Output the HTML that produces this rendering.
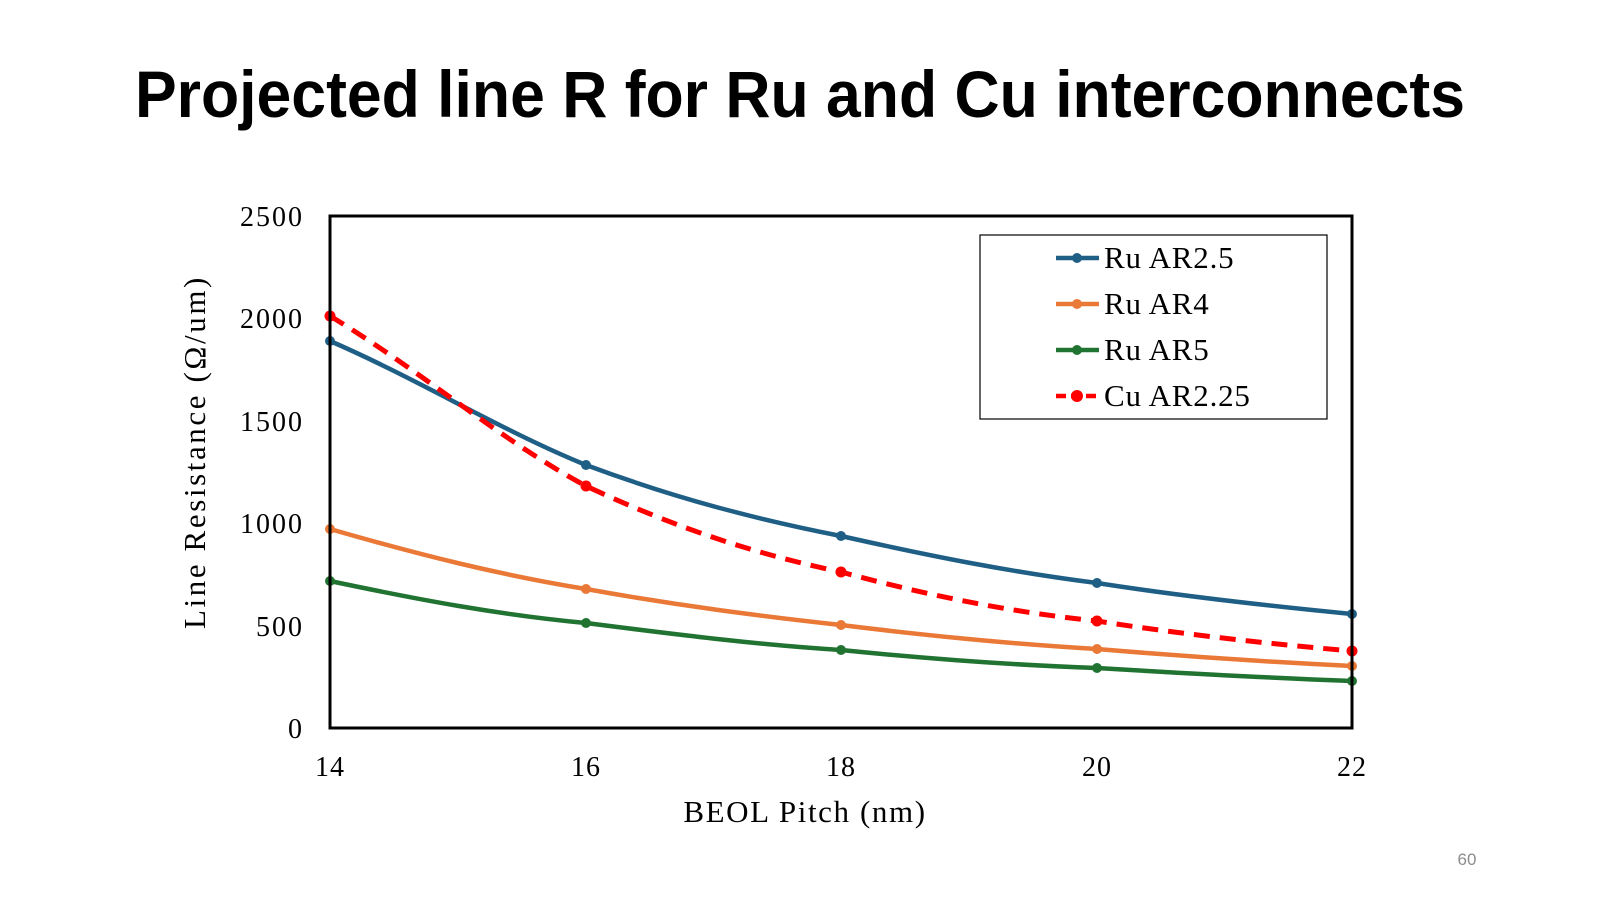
<!DOCTYPE html>
<html><head><meta charset="utf-8"><style>body{margin:0;background:#fff}svg{display:block}</style></head>
<body>
<svg width="1600" height="900" viewBox="0 0 1600 900" xmlns="http://www.w3.org/2000/svg">
<rect width="1600" height="900" fill="#fff"/>
<text x="800" y="117" text-anchor="middle" font-family="Liberation Sans, sans-serif" font-weight="bold" font-size="66" textLength="1330" lengthAdjust="spacingAndGlyphs">Projected line R for Ru and Cu interconnects</text>
<g font-family="Liberation Serif, serif" font-size="28" fill="#000">
<g text-anchor="end" letter-spacing="2">
<text x="304" y="226">2500</text><text x="304" y="328">2000</text><text x="304" y="431">1500</text><text x="304" y="533">1000</text><text x="304" y="636">500</text><text x="304" y="738">0</text>
</g>
<g text-anchor="middle">
<text x="330" y="776" letter-spacing="1">14</text><text x="586" y="776" letter-spacing="1">16</text><text x="841" y="776" letter-spacing="1">18</text><text x="1097" y="776" letter-spacing="1">20</text><text x="1352" y="776" letter-spacing="1">22</text>
<text x="805" y="822" font-size="31" letter-spacing="1.6">BEOL Pitch (nm)</text>
<text transform="translate(205,452) rotate(-90)" font-size="31" letter-spacing="2.6">Line Resistance (Ω/um)</text>
</g>
</g>
<g fill="none" stroke-width="4.5" stroke-linejoin="round">
<path d="M330,341 C420,380 500,430 586,465 C680,500 760,520 841,536 C930,556 1010,572 1097,583 C1180,596 1270,606 1352,614" stroke="#1f5f86"/>
<path d="M330,529 C420,555 500,575 586,589 C680,606 760,616 841,625 C930,636 1010,644 1097,649 C1180,656 1270,662 1352,666" stroke="#ea7836"/>
<path d="M330,581 C420,600 500,615 586,623 C680,635 760,645 841,650 C930,659 1010,665 1097,668 C1180,673 1270,678 1352,681" stroke="#217331"/>
<path d="M330,316 C420,370 500,440 586,486 C680,530 760,555 841,572 C930,596 1010,612 1097,621 C1180,634 1270,644 1352,651" stroke="#ff0000" stroke-width="5" stroke-dasharray="16,10"/>
</g>
<g fill="#1f5f86"><circle cx="330" cy="341" r="5"/><circle cx="586" cy="465" r="5"/><circle cx="841" cy="536" r="5"/><circle cx="1097" cy="583" r="5"/><circle cx="1352" cy="614" r="5"/></g>
<g fill="#ea7836"><circle cx="330" cy="529" r="5"/><circle cx="586" cy="589" r="5"/><circle cx="841" cy="625" r="5"/><circle cx="1097" cy="649" r="5"/><circle cx="1352" cy="666" r="5"/></g>
<g fill="#217331"><circle cx="330" cy="581" r="5"/><circle cx="586" cy="623" r="5"/><circle cx="841" cy="650" r="5"/><circle cx="1097" cy="668" r="5"/><circle cx="1352" cy="681" r="5"/></g>
<g fill="#ff0000"><circle cx="330" cy="316" r="5.5"/><circle cx="586" cy="486" r="5.5"/><circle cx="841" cy="572" r="5.5"/><circle cx="1097" cy="621" r="5.5"/><circle cx="1352" cy="651" r="5.5"/></g>
<rect x="330" y="216" width="1022" height="512" fill="none" stroke="#000" stroke-width="3"/>
<rect x="980" y="235" width="347" height="184" fill="#fff" stroke="#000" stroke-width="1.2"/>
<g stroke-width="4.5">
<line x1="1056" y1="258" x2="1099" y2="258" stroke="#1f5f86"/><circle cx="1077" cy="258" r="5" fill="#1f5f86"/>
<line x1="1056" y1="304" x2="1099" y2="304" stroke="#ea7836"/><circle cx="1077" cy="304" r="5" fill="#ea7836"/>
<line x1="1056" y1="350" x2="1099" y2="350" stroke="#217331"/><circle cx="1077" cy="350" r="5" fill="#217331"/>
<line x1="1056" y1="396" x2="1099" y2="396" stroke="#ff0000" stroke-dasharray="10,5"/><circle cx="1077" cy="396" r="6" fill="#ff0000"/>
</g>
<g font-family="Liberation Serif, serif" font-size="31" letter-spacing="0.8">
<text x="1104" y="268">Ru AR2.5</text><text x="1104" y="314">Ru AR4</text><text x="1104" y="360">Ru AR5</text><text x="1104" y="406">Cu AR2.25</text>
</g>
<text x="1467" y="865" text-anchor="middle" font-family="Liberation Sans, sans-serif" font-size="17" fill="#8c8c8c">60</text>
</svg>
</body></html>
